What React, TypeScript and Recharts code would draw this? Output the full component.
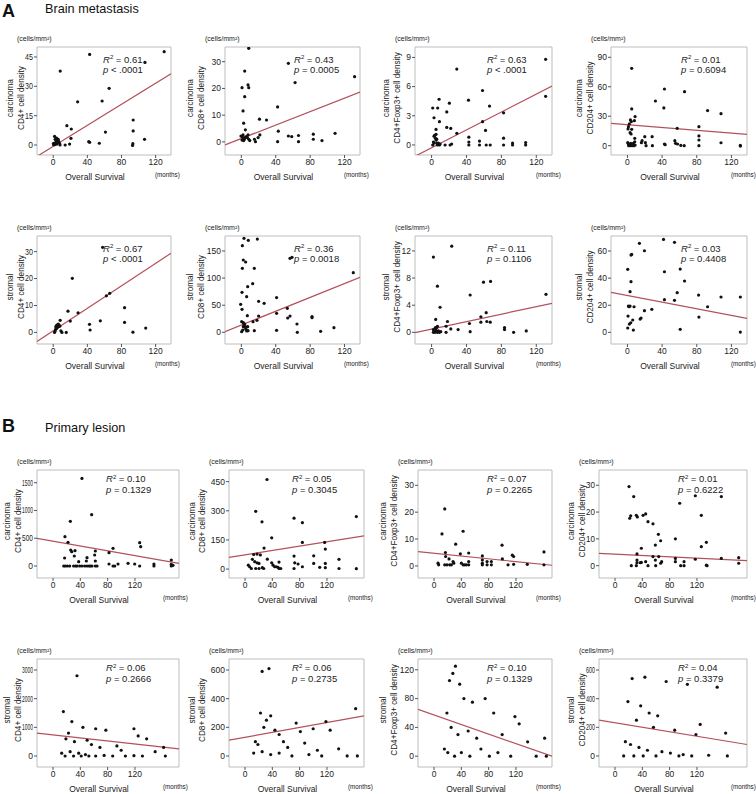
import React from 'react';
import { ScatterChart, Scatter, XAxis, YAxis, ReferenceLine, ReferenceArea } from 'recharts';

const FONT = '"Liberation Sans", Arial, Helvetica, sans-serif';

// ---------- Brain metastasis (A) ----------
const brainCarcinomaCD4 = [[42.7,46.3],[8.2,37.8],[130,47.7],[107.5,42.2],[65.5,29],[57.3,22.5],[28.6,22.1],[93.7,12.8],[93.7,7.2],[61.2,6.6],[16,9.9],[21.2,8.2],[20.8,3.4],[41.6,1.7],[42.7,1.4],[54,0.9],[93.3,0.7],[93,-0.2],[107,2.9],[19.2,0.5],[14,0],[8,0],[0.4,0.9],[1.6,4.4],[2.3,2.9],[3.5,2.5],[4.3,1.7],[5.1,1.4],[6.3,1.9],[0.4,0.2],[1.6,0.2],[3.1,0.7],[4.3,0.5],[7.4,0.9],[5.9,2.9],[2.7,1.2],[3.9,3.6]];
const brainCarcinomaCD8 = [[8.6,35],[3.9,26.5],[0.8,20.3],[7.8,21.3],[8.6,20.3],[3.9,16.9],[2,11.6],[2.7,7],[4.7,4.5],[21.1,8.5],[29.3,8.2],[21.5,2.6],[19.5,1.6],[15.2,1],[16.4,0.1],[42.2,13.1],[43,4],[42.2,0.1],[54.7,29.4],[62.5,22.2],[54.7,2.2],[58.6,2],[66.5,2.4],[66.5,0.1],[83.7,2.9],[83.7,1],[93.8,0.5],[109,3.2],[131.7,24.4],[-0.4,2.2],[0.8,2],[2,2.6],[2.7,1.4],[3.5,1],[4.7,1.7],[5.9,2],[7,1.6],[7.8,2.6],[8.6,1],[9.8,0.5],[0.8,0.7],[2.7,0.5]];
const brainCarcinomaFoxp3 = [[28.9,7.8],[130.7,8.8],[130.7,5],[58.4,5.6],[42.3,4.6],[66.4,4],[82.5,3.3],[58.4,2.4],[61.8,1.5],[8.6,4.7],[7,3.8],[1.3,3.8],[2.8,2.8],[9,2.4],[5.1,1.6],[20.4,4.3],[17.4,3.4],[17.4,1.8],[22,1.7],[28.9,1.2],[42.7,0.8],[42.7,0.3],[42.7,0],[54.9,0.4],[54.9,0],[62.6,0],[67.2,0],[82.5,0.7],[82.5,0],[92.8,0.2],[92.8,0],[107.8,0.25],[107.8,0],[15.5,0],[21.2,0],[23,0.1],[1.3,0],[2.1,0.3],[2.8,0.9],[3.6,1],[4.4,0.7],[5.1,0.5],[5.9,0.2],[6.7,0],[7.8,0.2],[9,0],[9.8,0.1],[2.8,0.2],[5.1,1.1],[5.9,0.6]];
const brainCarcinomaCD204 = [[4.9,78.8],[42.7,57.7],[65.9,55],[32.3,45.5],[42,38.4],[4.9,37.4],[92.5,35.7],[108,32.6],[8.8,29.6],[3.4,26.2],[4.5,24.5],[2.2,22.1],[1.1,19.4],[0.7,17],[4.9,16.6],[8,25.5],[3,13.2],[4.2,11.9],[57.4,17.7],[82.5,19.4],[82.5,9.9],[82.5,5.8],[82.5,0],[108,3],[130.3,0.3],[130.3,-0.4],[8.4,7.5],[8.4,4],[20,9.2],[28.5,9.2],[16.9,5.1],[16.1,3.1],[20.7,3.1],[21.5,0],[28.8,0],[42.7,1.7],[43.5,1],[54.7,5.1],[55.5,2.4],[57.8,1.7],[61.6,0.3],[65.5,0],[0.3,3.1],[1.1,1.7],[2.2,0.7],[3,0],[4.2,1.4],[5.3,0],[6.8,2.4],[7.6,0],[8.8,0.7],[1.4,0],[3.7,2.4]];
const brainStromalCD4 = [[57.9,31.6],[22.4,20.1],[62.3,13.6],[66.2,14.5],[83.6,9.2],[17.3,7.9],[29.1,7.3],[20,4.2],[8.2,4.5],[55.2,4.3],[42.5,3],[43.2,0.9],[83.6,3.7],[93.4,0.1],[108.4,1.6],[15.3,0],[9,0.6],[10.2,0],[1.5,0],[3,2.1],[3.8,2.5],[4.6,2.7],[5.8,3.1],[7,2.7],[5,1.9],[3,1.2],[6.2,2.1],[7.7,2.3],[3.8,1.5],[2.3,0.5]];
const brainStromalCD8 = [[3.1,173.3],[8.1,169.6],[18.6,172],[1.2,159.8],[2.3,133.4],[5,129.7],[1.2,118],[15.1,118],[7.4,84.2],[13.2,89.7],[0.8,73.8],[6.2,65.8],[-0.8,51.6],[0.8,42.4],[20.1,57.2],[26.5,53.5],[41,64],[53.5,44.3],[56.6,136.4],[58.9,138.3],[130.2,110],[7,30.7],[20.1,30.1],[18.2,22.1],[13.6,19.7],[41,35],[56.6,30],[53.9,26.4],[82.2,29],[82.2,27],[64.7,15.4],[65.1,0],[92.2,1.8],[107.7,8.6],[41,3.7],[15.1,3.1],[0.4,1.2],[1.6,4.3],[2.3,10.5],[3.1,13.5],[4.3,9.2],[5.4,5.5],[6.2,2.5],[7.8,3.1],[0.4,19.7],[2.3,17.8],[3.9,15.4],[4.7,10.5],[7.4,10.5]];
const brainStromalFoxp3 = [[23.1,12.7],[2.1,11.1],[6.7,6.8],[9.7,3.7],[44.2,5.5],[59.5,7.4],[67.6,7.5],[131.1,5.6],[62.6,2.9],[56.5,2.3],[56.5,1.5],[63.3,1.6],[67.2,1.5],[43.4,1.3],[44.2,0.1],[18.2,1.6],[16.6,0.9],[4.7,1.9],[22,0.5],[30.4,0.4],[16.6,0],[83.6,0.7],[83.6,0.4],[94,0],[108.5,0.2],[2.1,0.4],[2.8,0.2],[4,0],[5.1,0.3],[5.9,0.7],[6.7,0],[7.8,0.2],[9,0],[10.5,0.1],[4.4,0.7],[6.7,0.9],[2.1,0]];
const brainStromalCD204 = [[13.8,65.7],[41.6,68.6],[54.3,66.4],[19.6,60.2],[4.9,57.5],[4.1,57],[0.3,46.5],[60.9,46.7],[42.7,44.7],[4.1,37.4],[65.9,37.9],[3,30],[57.4,29.3],[82.1,27.5],[108,26.1],[130.3,26.1],[42.7,24.1],[54.3,23.6],[92.5,18.9],[82.5,11.3],[1.1,19.4],[3,19.4],[7.6,18.9],[1.8,18.9],[0.7,12],[28.1,17],[19.6,16],[15.7,10.6],[14.6,9.8],[6.1,9.1],[3.8,7.1],[2.2,6.1],[0.3,3.2],[6.8,1.7],[60.9,2.2],[130.3,0.2]];

// ---------- Primary lesion (B) ----------
const primaryCarcinomaCD4 = [[42.4,1578],[56.6,924],[25.4,804],[17.5,528],[22,426],[25.9,288],[27.4,258],[32.2,276],[31.2,180],[17,144],[49.8,150],[62,270],[61,198],[37.6,78],[48.8,90],[62,90],[82,240],[87.9,318],[126.9,420],[128.4,348],[173.2,108],[173.2,30],[15.7,0],[18,0],[21,0],[24.4,0],[30.2,0],[33.2,0],[35.2,0],[39.1,0],[42.4,0],[46.4,0],[49.8,0],[52.8,0],[54.6,0],[57.1,0],[62,0],[64.5,0],[82,36],[87.9,0],[90.4,0],[95.2,36],[109.9,48],[119.6,36],[126.9,0],[147.8,36],[147.8,0],[173.2,0],[175.7,12]];
const primaryCarcinomaCD8 = [[32.2,461],[15.7,297],[24.9,243],[71.8,262],[84,239],[163,270],[39.1,161],[27.9,108],[84,137],[116.6,137],[117.6,103],[17.7,77],[22.5,73],[12.7,75],[32.7,51],[71.8,67],[100.6,68],[137.6,50],[10.8,50],[14.2,38],[17.7,32],[20.5,29],[39.1,32],[49.8,36],[72.8,32],[77.7,26],[100.6,29],[117.6,29],[4.9,20],[6.8,12],[9.3,3],[15.7,3],[20.5,3],[25.4,7],[27.4,3],[41.1,20],[43.4,12],[45.9,12],[48.3,9],[49.8,3],[52.3,3],[71.8,3],[84,12],[109.4,9],[117.6,7],[137.6,3],[163,2]];
const primaryCarcinomaFoxp3 = [[15.7,21.2],[11.7,11.9],[42.6,12.9],[31.7,8.1],[99.6,7.7],[161,5.2],[16.7,5],[38.6,4.5],[50.8,4.8],[17,3.5],[22,2.6],[70.8,3.7],[114.7,4],[116.6,3.5],[100.1,2.6],[50.8,1.6],[27.9,1.6],[70.8,2.2],[77.7,1.6],[84,1.6],[5.9,1],[6.8,0.4],[15.7,0.4],[19,0.4],[23,0.4],[25.4,0.4],[28.9,1],[40.1,1],[42.6,0.4],[44.9,0.4],[47.4,0.4],[50.8,0.4],[70.8,1],[70.8,0.4],[77.7,0.4],[84,0.4],[108.4,0.4],[116.6,0.6],[136.6,0.6],[161,0.4]];
const primaryCarcinomaCD204 = [[20.5,29.5],[27.4,25.8],[155.7,25.8],[94.7,23.3],[117.6,26.1],[23,18.6],[21.5,17.7],[31.2,18.8],[32.7,18.2],[41.1,18.8],[44.9,19.3],[48.3,16.4],[55.6,15.6],[126.4,18.8],[63.5,11.7],[66.8,9.3],[88.4,10],[59.1,7.7],[126.4,7.1],[133.8,8.7],[38.6,6.5],[32.2,4.4],[55.6,3.4],[64,3.4],[88.4,2.7],[88.4,1.5],[117.6,2.4],[155.7,2.7],[181.1,3],[181.1,0.9],[32.2,2.1],[32.2,1.1],[37.1,1.1],[38.6,1.2],[44.9,1.5],[59.1,2.1],[66.8,0.9],[68.3,1.5],[23.9,0],[31.2,0],[48.3,0],[59.6,0],[96.2,0],[101.1,1.5],[101.1,0],[133.8,0.2],[134.8,0]];
const primaryStromalCD4 = [[35.1,2800],[15.2,1550],[27.6,1200],[43.8,1000],[62.5,950],[77.4,900],[118.5,950],[124.7,700],[22.7,800],[18.9,600],[31.4,500],[50,550],[56.3,400],[68.7,300],[93.6,350],[99.8,200],[137.1,600],[162,300],[149.6,150],[12.7,100],[25.1,150],[37.6,100],[47.5,50],[62.5,0],[74.9,20],[87.4,0],[106,0],[118.5,10],[130.9,0],[164.5,0],[17.7,0],[30.1,0],[41.3,0],[52.5,0]];
const primaryStromalCD8 = [[25.1,590],[35.1,610],[22.7,300],[37.6,280],[31.4,250],[27.6,200],[43.8,180],[50,150],[74.9,230],[81.1,170],[99.8,190],[118.5,240],[124.7,180],[162,330],[15.2,100],[18.9,80],[56.3,100],[62.5,60],[87.4,90],[106,40],[137.1,50],[12.7,20],[25.1,30],[37.6,10],[50,20],[68.7,0],[93.6,10],[112.3,0],[149.6,0],[164.5,0]];
const primaryStromalFoxp3 = [[31.4,125],[27.6,115],[22.7,105],[37.6,100],[43.8,80],[56.3,75],[74.9,80],[87.4,60],[118.5,55],[124.7,45],[18.9,60],[25.1,40],[35.1,30],[50,35],[62.5,25],[99.8,30],[137.1,20],[162,25],[15.2,10],[20.2,5],[30.1,0],[40.1,5],[52.5,0],[68.7,10],[81.1,0],[93.6,5],[112.3,0],[149.6,0],[164.5,0]];
const primaryStromalCD204 = [[43.8,550],[25.1,540],[74.9,520],[106,500],[149.6,480],[18.9,380],[37.6,350],[50,300],[62.5,280],[31.4,250],[56.3,200],[87.4,180],[118.5,150],[124.7,220],[162,160],[15.2,100],[22.7,80],[35.1,60],[47.5,40],[68.7,30],[81.1,20],[99.8,10],[137.1,5],[12.7,0],[27.6,0],[41.3,0],[60,0],[93.6,0],[112.3,0],[164.5,0]];

// fitted regression line: y at left edge, y at right edge of the x range
const brainFits = [[-5.8,36.4],[-1.1,18.6],[-1.16,6.06],[22.8,11.5],[-3.4,29.4],[1.2,101.4],[-0.05,4.28],[29.5,10.3]];
const primaryFits = [[498,48],[60,171],[5.3,0.25],[4.6,1.9],[800,250],[110,280],[65,0],[250,80]];

const brainR2 = ['0.61','0.43','0.63','0.01','0.67','0.36','0.11','0.03'];
const brainP = ['< .0001','= 0.0005','< .0001','= 0.6094','< .0001','= 0.0018','= 0.1106','= 0.4408'];
const primaryR2 = ['0.10','0.05','0.07','0.01','0.06','0.06','0.10','0.04'];
const primaryP = ['= 0.1329','= 0.3045','= 0.2265','= 0.6222','= 0.2666','= 0.2735','= 0.1329','= 0.3379'];

const markers = ['CD4+ cell density','CD8+ cell density','CD4+Foxp3+ cell density','CD204+ cell density'];
const compartments = ['carcinoma','stromal'];
const xTicks = [0, 40, 80, 120];

const brainYTicks = [[0,15,30,45],[0,10,20,30],[0,3,6,9],[0,30,60,90],[0,10,20,30],[0,50,100,150],[0,4,8,12],[0,20,40,60]];
const brainYDomains = [[-5.1,50.1],[-4.9,35.5],[-1.03,10.07],[-9.5,100.5],[-4.3,35.8],[-21.5,177.6],[-1.72,14.2],[-8.6,71.1]];
const primaryYTicks = [[0,500,1000,1500],[0,150,300,450],[0,10,20,30],[0,10,20,30],[0,1000,2000,3000],[0,200,400,600],[0,40,80,120],[0,200,400,600]];
const primaryYDomains = [[-216,1729],[-46,510],[-4.5,35.7],[-4.6,35.7],[-384,3384],[-77,677],[-15,135],[-77,677]];

// ---------- layout ----------
const brainBoxX = [37, 225, 415, 611];
const brainBoxW = [134, 135, 137, 136];
const brainRowTop = [47, 236];
const primaryBoxX = [37, 229, 418, 599];
const primaryBoxW = [142, 135, 134, 148];
const primaryRowTop = [470, 659];
const BOX_H = 108;
const B_ZERO_PX = 16;      // distance of x = 0 from box left in section B
const B_PX_PER_MONTH = 0.683;
// x offset (from box left) of the centre of the inner y-label line
const brainLabelX = [-16, -24, -18, -21];
const primaryLabelX = [-19, -26.5, -24, -17];
const brainStatDx = [66, 69, 72, 70];
const primaryStatDx = [69, 63, 69, 79];

type Cfg = {
  bx: number; by: number; bw: number; bh: number;
  xDomain: number[]; yDomain: number[]; yTicks: number[];
  data: number[][]; fit: number[];
  label: string[]; r2: string; p: string;
  lx: number; statDx: number; statDy: number;
};

const Dot = (props: any) => {
  if (props.cx == null || props.cy == null) return null;
  return <circle cx={props.cx} cy={props.cy} r={1.6} fill="#111" />;
};

const PAD_L = 45, PAD_T = 50, PAD_R = 26, PAD_B = 34, YW = 30, XH = 20;
const Y_TICK_FS = 8.5;

function makeYTick(avail: number) {
  return (props: any) => {
    const { x, y, payload } = props;
    const s = String(payload.value);
    const natural = s.length * 0.556 * Y_TICK_FS;
    const extra = natural > avail ? { textLength: avail, lengthAdjust: 'spacingAndGlyphs' } : {};
    return (
      <text x={x} y={y} dy="0.34em" textAnchor="end" fontSize={Y_TICK_FS} fill="#222" fontFamily={FONT} {...extra}>{s}</text>
    );
  };
}

function Panel({ c }: { c: Cfg }) {
  const W = c.bw + PAD_L + PAD_R;
  const H = c.bh + PAD_T + PAD_B;
  const pts = c.data.map(([x, y]) => ({ x, y }));
  const [x0, x1] = c.xDomain;
  const [y0, y1] = c.yDomain;
  const tickStyle = { fontSize: 8.5, fill: '#222', fontFamily: FONT };
  const cy = PAD_T + c.bh / 2 - 3;
  const avail = -c.lx - 4 - 4.1;
  return (
    <div style={{ position: 'absolute', left: c.bx - PAD_L, top: c.by - PAD_T, width: W, height: H }}>
      <ScatterChart width={W} height={H} margin={{ top: PAD_T, left: PAD_L - YW, right: PAD_R, bottom: PAD_B - XH }}>
        <XAxis type="number" dataKey="x" domain={[x0, x1]} ticks={xTicks} allowDataOverflow interval={0}
          height={XH} axisLine={false} tickSize={3} tickMargin={1} tick={tickStyle} tickLine={{ stroke: '#555' }} />
        <YAxis type="number" dataKey="y" domain={[y0, y1]} ticks={c.yTicks} allowDataOverflow interval={0}
          width={YW} axisLine={false} tickSize={3} tickMargin={1} tick={makeYTick(avail)} tickLine={{ stroke: '#555' }} />
        <ReferenceArea x1={x0} x2={x1} y1={y0} y2={y1} fill="none" fillOpacity={0} stroke="#bdbdbd" strokeWidth={1} ifOverflow="visible" />
        <ReferenceLine segment={[{ x: x0, y: c.fit[0] }, { x: x1, y: c.fit[1] }]} stroke="#b4505a" strokeWidth={1.2} ifOverflow="hidden" />
        <Scatter data={pts} isAnimationActive={false} shape={Dot} />
      </ScatterChart>
      <svg width={W} height={H} style={{ position: 'absolute', left: 0, top: 0, pointerEvents: 'none', overflow: 'visible' }} fontFamily={FONT}>
        <text x={PAD_L - 20} y={PAD_T - 6.5} fontSize={7} fill="#222">(cells/mm²)</text>
        <text transform={`translate(${PAD_L + c.lx - 10.5},${cy}) rotate(-90)`} textAnchor="middle" dominantBaseline="central" fontSize={8.2} fill="#222">{c.label[0]}</text>
        <text transform={`translate(${PAD_L + c.lx},${cy}) rotate(-90)`} textAnchor="middle" dominantBaseline="central" fontSize={8.2} fill="#222">{c.label[1]}</text>
        <text x={PAD_L + c.statDx} y={PAD_T + c.statDy} fontSize={9.5} fill="#222">
          <tspan fontStyle="italic">R</tspan><tspan fontSize={6} dy={-3.5}>2</tspan><tspan dy={3.5}> = {c.r2}</tspan>
        </text>
        <text x={PAD_L + c.statDx} y={PAD_T + c.statDy + 10.5} fontSize={9.5} fill="#222">
          <tspan fontStyle="italic">p</tspan><tspan> {c.p}</tspan>
        </text>
        <text x={PAD_L + c.bw / 2 - 9} y={PAD_T + c.bh + 25} textAnchor="middle" fontSize={8.5} fill="#222">Overall Survival</text>
        <text x={PAD_L + c.bw - 16} y={PAD_T + c.bh + 22} fontSize={6.3} fill="#222">(months)</text>
      </svg>
    </div>
  );
}

const brainData = [brainCarcinomaCD4, brainCarcinomaCD8, brainCarcinomaFoxp3, brainCarcinomaCD204, brainStromalCD4, brainStromalCD8, brainStromalFoxp3, brainStromalCD204];
const primaryData = [primaryCarcinomaCD4, primaryCarcinomaCD8, primaryCarcinomaFoxp3, primaryCarcinomaCD204, primaryStromalCD4, primaryStromalCD8, primaryStromalFoxp3, primaryStromalCD204];

function buildBrain(i: number): Cfg {
  const row = Math.floor(i / 4), col = i % 4;
  return {
    bx: brainBoxX[col], by: brainRowTop[row], bw: brainBoxW[col], bh: BOX_H,
    xDomain: [-19, 138], yDomain: brainYDomains[i], yTicks: brainYTicks[i],
    data: brainData[i], fit: brainFits[i], label: [compartments[row], markers[col]],
    r2: brainR2[i], p: brainP[i], lx: brainLabelX[col], statDx: brainStatDx[col], statDy: 15.5,
  };
}
function buildPrimary(i: number): Cfg {
  const row = Math.floor(i / 4), col = i % 4;
  const w = primaryBoxW[col];
  return {
    bx: primaryBoxX[col], by: primaryRowTop[row], bw: w, bh: BOX_H,
    xDomain: [-B_ZERO_PX / B_PX_PER_MONTH, (w - B_ZERO_PX) / B_PX_PER_MONTH],
    yDomain: primaryYDomains[i], yTicks: primaryYTicks[i],
    data: primaryData[i], fit: primaryFits[i], label: [compartments[row], markers[col]],
    r2: primaryR2[i], p: primaryP[i], lx: primaryLabelX[col], statDx: primaryStatDx[col], statDy: 12,
  };
}

export default function App() {
  const panels: Cfg[] = [];
  for (let i = 0; i < 8; i++) panels.push(buildBrain(i));
  for (let i = 0; i < 8; i++) panels.push(buildPrimary(i));
  return (
    <div style={{ position: 'absolute', left: 0, top: 0, width: 756, height: 794, background: '#fff', fontFamily: FONT, overflow: 'hidden' }}>
      <svg width={756} height={794} style={{ position: 'absolute', left: 0, top: 0 }} fontFamily={FONT}>
        <text x={2} y={17} fontSize={18} fontWeight="bold" fill="#111">A</text>
        <text x={45} y={13} fontSize={12.7} fill="#111">Brain metastasis</text>
        <text x={2} y={432} fontSize={18} fontWeight="bold" fill="#111">B</text>
        <text x={45} y={432} fontSize={12.7} fill="#111">Primary lesion</text>
      </svg>
      {panels.map((c, i) => <Panel key={i} c={c} />)}
    </div>
  );
}
